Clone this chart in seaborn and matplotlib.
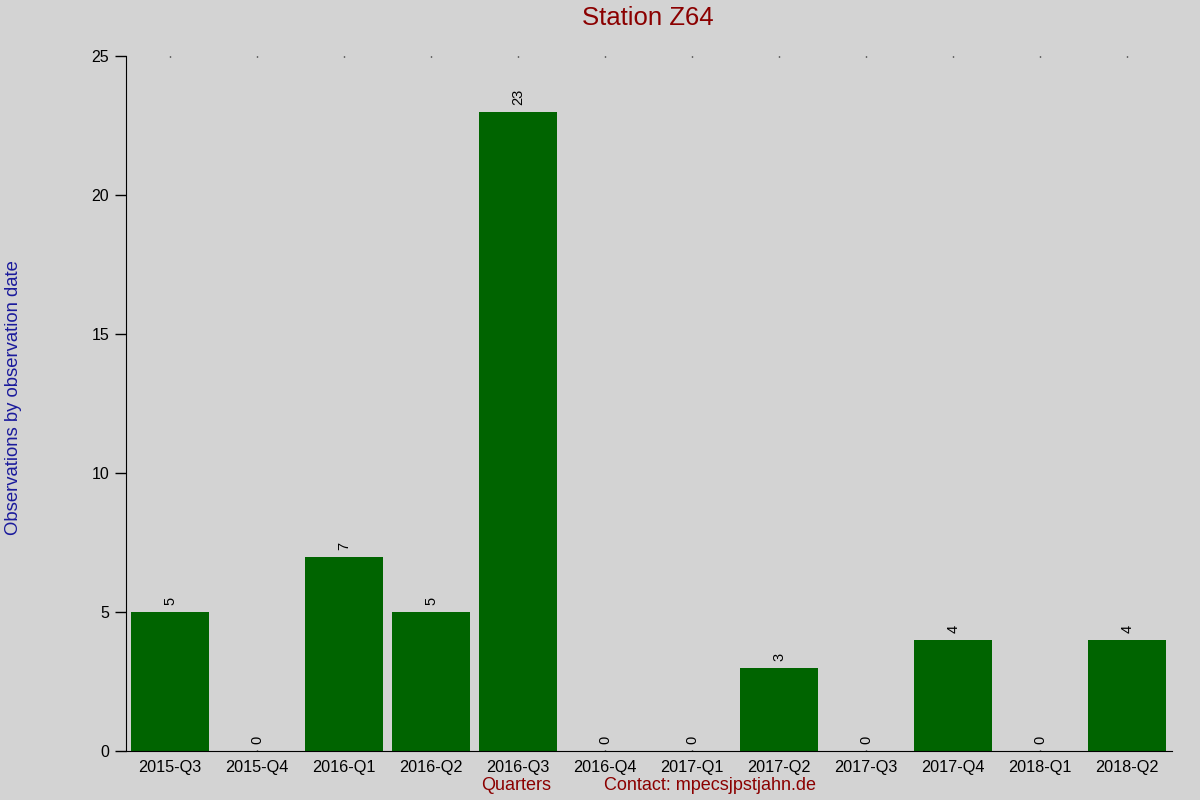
import pandas as pd
import seaborn as sns
import matplotlib.pyplot as plt

# Datos
quarters = ["2015-Q3", "2015-Q4", "2016-Q1", "2016-Q2", "2016-Q3", "2016-Q4",
            "2017-Q1", "2017-Q2", "2017-Q3", "2017-Q4", "2018-Q1", "2018-Q2"]
observations = [5, 0, 7, 5, 23, 0, 0, 3, 0, 4, 0, 4]
y_ticks = [0, 5, 10, 15, 20, 25]

df = pd.DataFrame({"quarter": quarters, "obs": observations})

sns.set_style("ticks")
plt.rcParams["font.family"] = ["Liberation Sans", "DejaVu Sans"]

fig = plt.figure(figsize=(12, 8), dpi=100, facecolor="#d3d3d3")
ax = fig.add_axes([0.105, 0.061, 0.872, 0.869])
ax.set_facecolor("#d3d3d3")

sns.barplot(data=df, x="quarter", y="obs", color="#006400", saturation=1,
            width=0.9, linewidth=0, ax=ax)

# Etiquetas de valor giradas encima de cada barra
for i, v in enumerate(observations):
    ax.text(i, v + 0.25, str(v), rotation=90, ha="center", va="bottom",
            fontsize=10.5, color="black")

ax.set_xlim(-0.506, 11.52)
ax.set_ylim(0, 25)
ax.set_yticks(y_ticks)
ax.tick_params(axis="y", direction="out", length=8, width=1, labelsize=11.5,
               pad=4, colors="black")
ax.tick_params(axis="x", length=0, labelsize=11.7, pad=6, colors="black")
ax.tick_params(axis="x", top=True, direction="in", length=1, width=1)

for side in ["top", "right"]:
    ax.spines[side].set_visible(False)
ax.spines["left"].set_color("black")
ax.spines["bottom"].set_color("black")

ax.set_xlabel("")
ax.set_ylabel("")
fig.text(0.54, 0.977, "Station Z64", ha="center", va="center",
         fontsize=18.5, color="#8b0000")
fig.text(0.011, 0.503, "Observations by observation date", rotation=90,
         ha="center", va="center", fontsize=13.3, color="#1a1a9c")
fig.text(0.43, 0.018, "Quarters", ha="center", va="center",
         fontsize=13, color="#8b0000")
fig.text(0.592, 0.018, "Contact: mpecsjpstjahn.de", ha="center", va="center",
         fontsize=13, color="#8b0000")

fig.savefig("out.png", dpi=100, facecolor=fig.get_facecolor())
